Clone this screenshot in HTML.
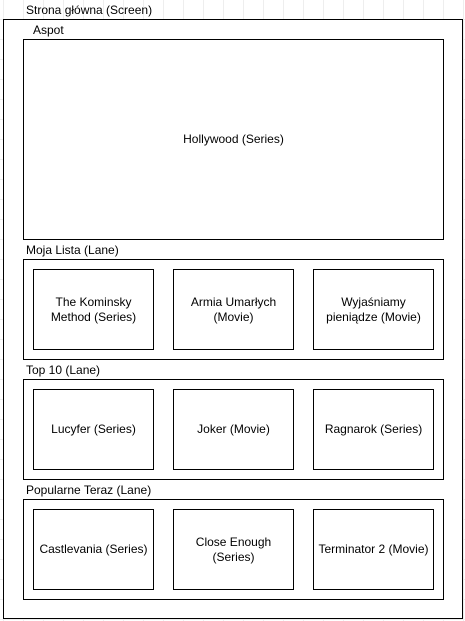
<!DOCTYPE html>
<html><head><meta charset="utf-8"><style>
body{margin:0;width:465px;height:621px;position:relative;overflow:hidden;background:#fff;
background-image:linear-gradient(to right,#eeeeee 1px,transparent 1px),linear-gradient(to bottom,#eeeeee 1px,transparent 1px);
background-size:20px 20px;background-position:3px 19px;font-family:"Liberation Sans",Arial,sans-serif;font-size:12px;color:#000}
.b{position:absolute;border:1px solid #000;box-sizing:border-box;background:#fff;display:flex;align-items:center;justify-content:center;text-align:center;line-height:15px}
.t{position:absolute;white-space:nowrap;line-height:14px}
</style></head><body>
<div class="t" style="left:26px;top:3px">Strona główna (Screen)</div>
<div class="b" style="left:3px;top:19px;width:460px;height:600px"></div>
<div class="t" style="left:33px;top:23px">Aspot</div>
<div class="b" style="left:23px;top:39px;width:421px;height:201px">Hollywood (Series)</div>

<div class="t" style="left:26px;top:243px">Moja Lista (Lane)</div>
<div class="b" style="left:23px;top:259px;width:421px;height:101px"></div>
<div class="b" style="left:33px;top:269px;width:121px;height:81px">The Kominsky<br>Method (Series)</div>
<div class="b" style="left:173px;top:269px;width:121px;height:81px">Armia Umarłych<br>(Movie)</div>
<div class="b" style="left:313px;top:269px;width:121px;height:81px">Wyjaśniamy<br>pieniądze (Movie)</div>

<div class="t" style="left:26px;top:363px">Top 10 (Lane)</div>
<div class="b" style="left:23px;top:379px;width:421px;height:101px"></div>
<div class="b" style="left:33px;top:389px;width:121px;height:81px">Lucyfer (Series)</div>
<div class="b" style="left:173px;top:389px;width:121px;height:81px">Joker (Movie)</div>
<div class="b" style="left:313px;top:389px;width:121px;height:81px">Ragnarok (Series)</div>

<div class="t" style="left:26px;top:483px">Popularne Teraz (Lane)</div>
<div class="b" style="left:23px;top:499px;width:421px;height:101px"></div>
<div class="b" style="left:33px;top:509px;width:121px;height:81px">Castlevania (Series)</div>
<div class="b" style="left:173px;top:509px;width:121px;height:81px">Close Enough<br>(Series)</div>
<div class="b" style="left:313px;top:509px;width:121px;height:81px">Terminator 2 (Movie)</div>
</body></html>
